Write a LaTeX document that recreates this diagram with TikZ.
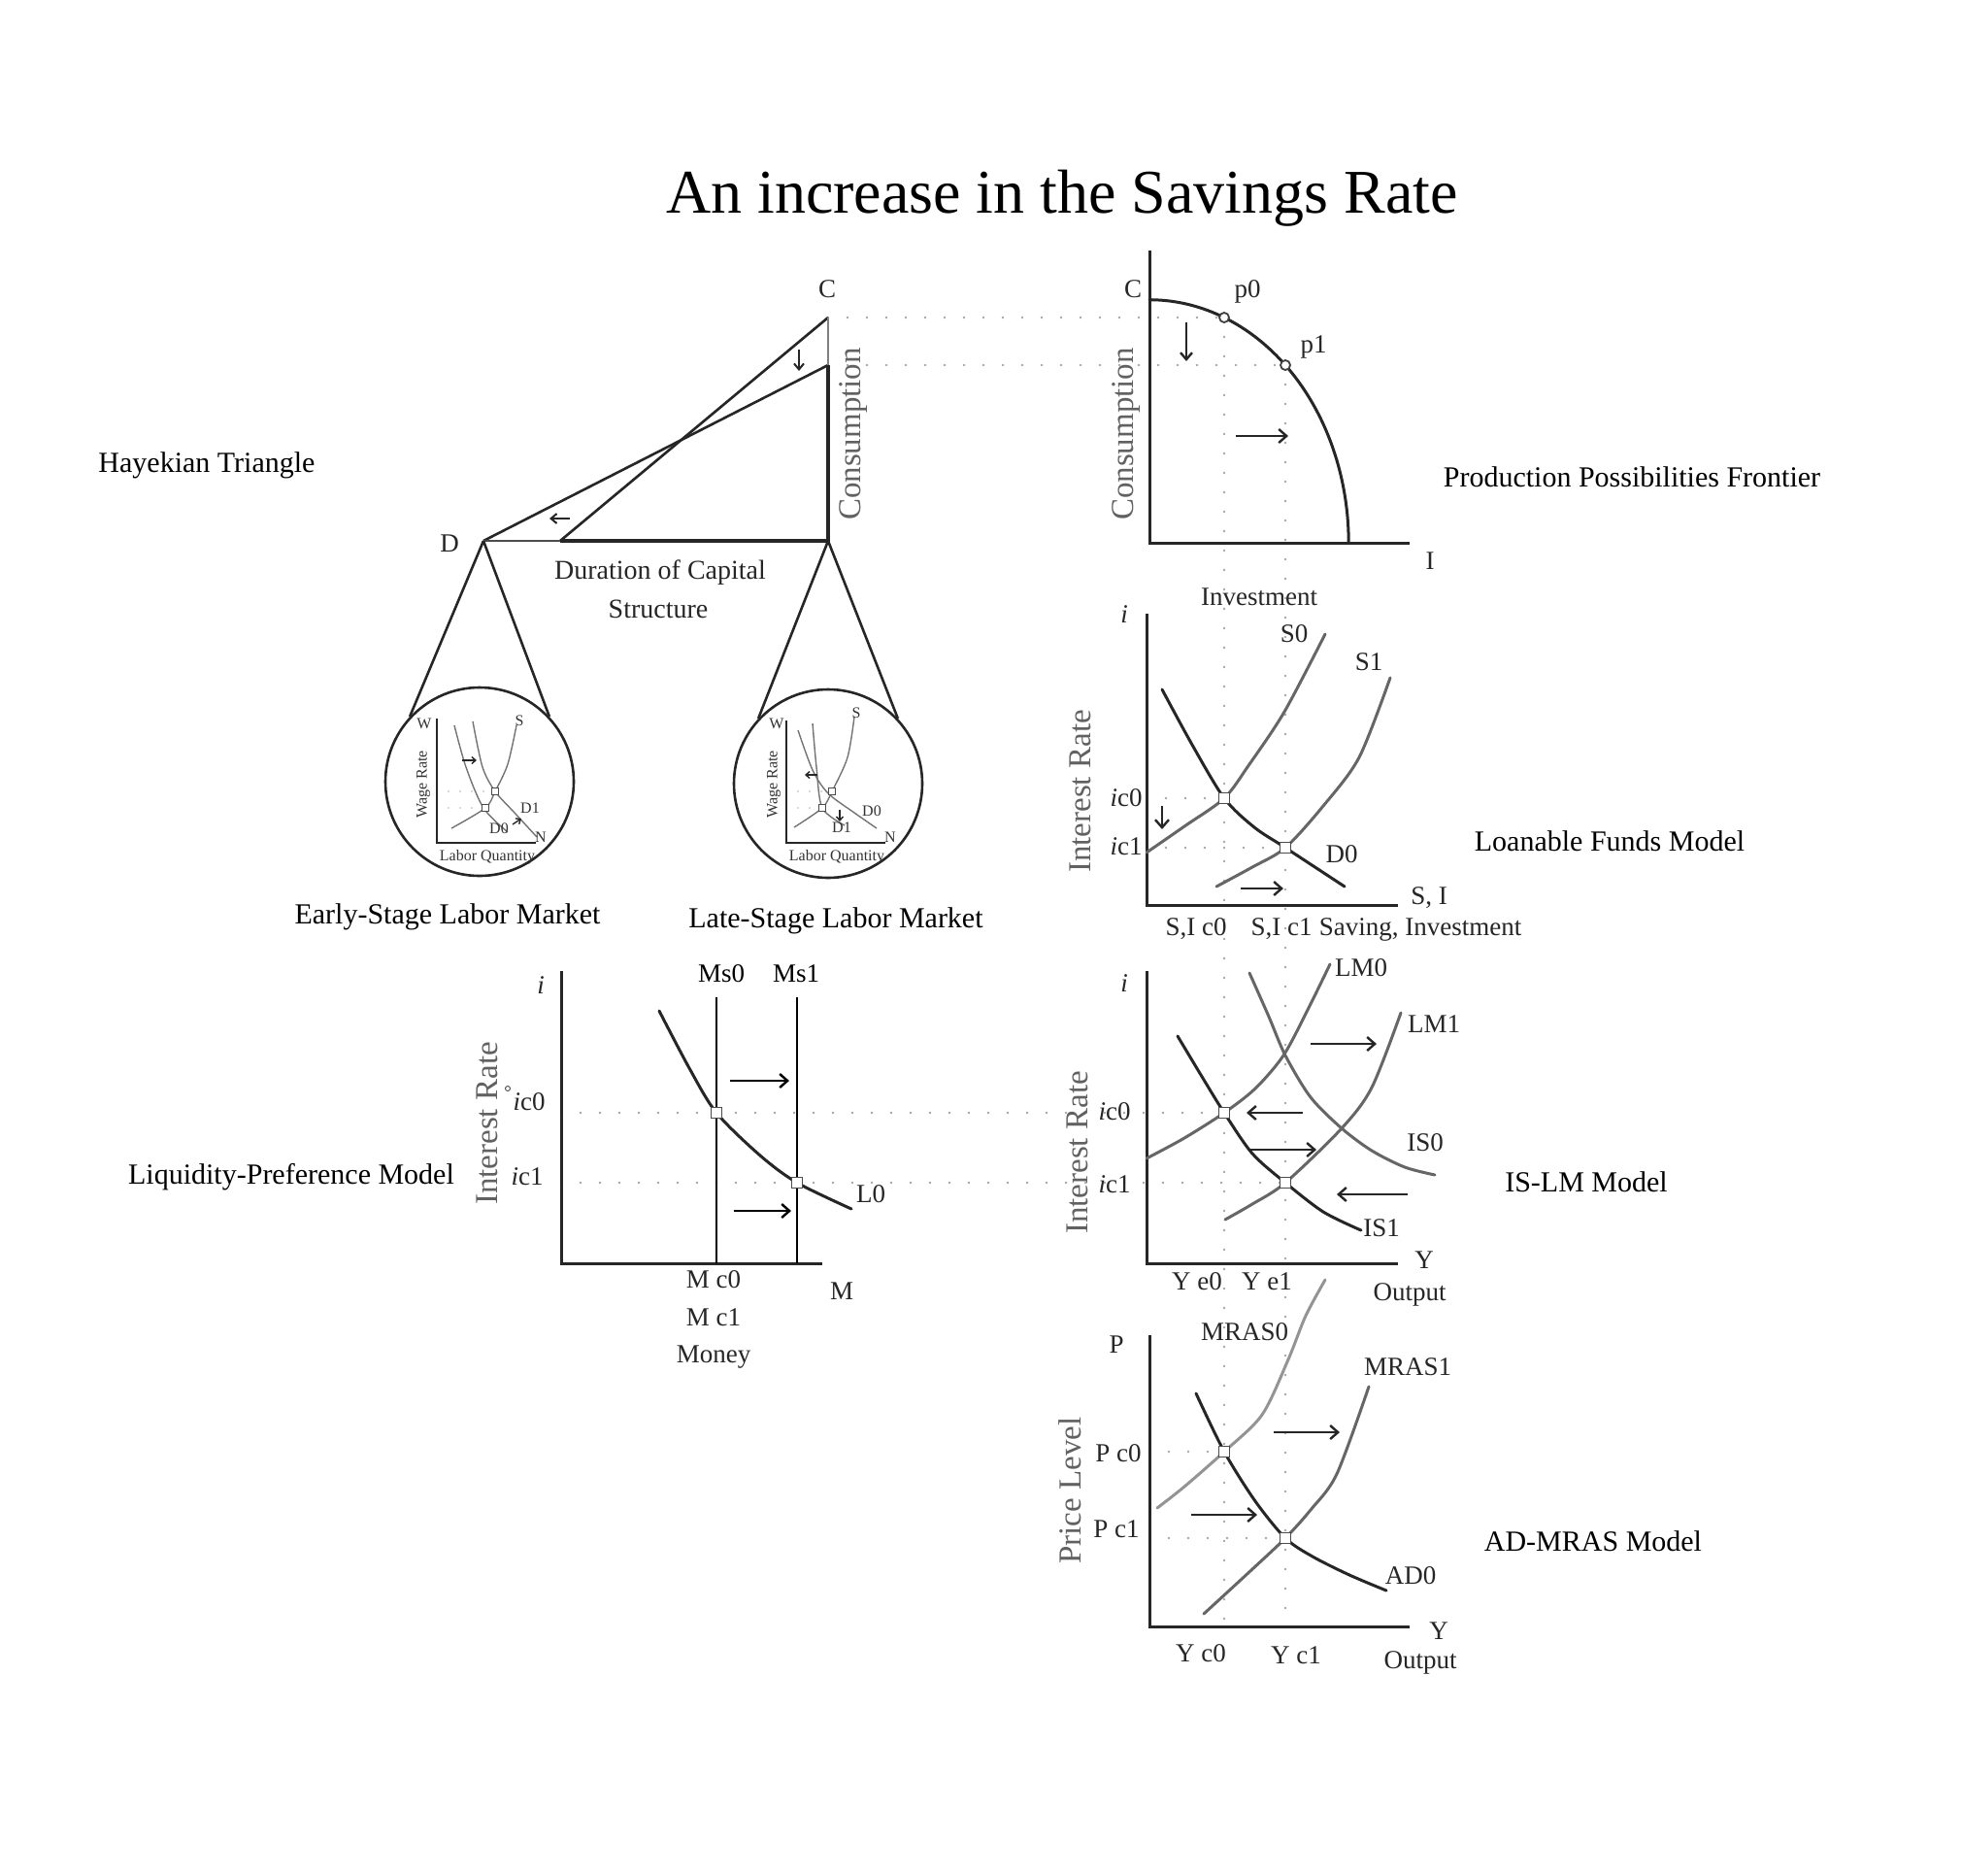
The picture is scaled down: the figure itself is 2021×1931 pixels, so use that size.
\documentclass[tikz,border=0pt]{standalone}
\usepackage{fontspec}
\setmainfont{Liberation Serif}
\usetikzlibrary{arrows.meta}
\begin{document}
\begin{tikzpicture}[x=1pt,y=-1pt,
  axis/.style={line width=3pt, black!85},
  crv/.style={line width=3pt, line cap=round},
  dk/.style={crv, black!85},
  md/.style={crv, black!60},
  lt/.style={crv, black!42},
  dotl/.style={line width=2.6pt, black!35, dash pattern=on 0pt off 20pt, line cap=round},
  arr/.style={line width=2.4pt, black!85, -{Straight Barb[length=8pt,width=14pt]}},
  sarr/.style={line width=1.4pt, black!85, -{Straight Barb[length=4pt,width=7pt]}},
  eq/.style={rectangle, draw=black!70, fill=white, line width=1.8pt, minimum size=11pt, inner sep=0pt},
  seq/.style={rectangle, draw=black!70, fill=white, line width=1.2pt, minimum size=7pt, inner sep=0pt},
  lbl/.style={font=\fontsize{27}{30}\selectfont, text=black!85, inner sep=0pt},
  ttl/.style={font=\fontsize{33}{36}\selectfont, text=black!62, inner sep=0pt, rotate=90},
  side/.style={font=\fontsize{30}{34}\selectfont, inner sep=0pt},
  small/.style={font=\fontsize{16}{18}\selectfont, text=black!80, inner sep=0pt},
  sc/.style={line width=1.4pt, black!55},
  sdot/.style={line width=1.6pt, black!30, dash pattern=on 0pt off 12pt, line cap=round}
]
\useasboundingbox (0,0) rectangle (2021,1931);

% ---------- title and side labels ----------
\node[font=\fontsize{64}{70}\selectfont, inner sep=0pt] (title) at (1094,204) {An increase in the Savings Rate};
\node[side] (hayek) at (213,479) {Hayekian Triangle};
\node[side] (ppfl) at (1681,491) {Production Possibilities Frontier};
\node[side] (lfl) at (1658,866) {Loanable Funds Model};
\node[side] (islml) at (1634,1217) {IS-LM Model};
\node[side] (adl) at (1641,1587) {AD-MRAS Model};
\node[side] (lpl) at (300,1212) {Liquidity-Preference Model};
\node[side] (esl) at (461,944) {Early-Stage Labor Market};
\node[side] (lsl) at (861,948) {Late-Stage Labor Market};

% ---------- key coordinates ----------
\coordinate (Ct) at (853,327);
\coordinate (Cl) at (853,376);
\coordinate (K) at (853,557);
\coordinate (Dp) at (498,557);
\coordinate (B) at (577,557);

% ---------- dotted guide lines ----------
\draw[dotl] (Ct) -- (1261,327);
\draw[dotl] (Cl) -- (1324,376);
\draw[dotl] (1261,327) -- (1261,1675);
\draw[dotl] (1324,376) -- (1324,1675);
\draw[dotl] (1181,822) -- (1261,822);
\draw[dotl] (1181,873) -- (1324,873);
\draw[dotl] (578,1146) -- (1261,1146);
\draw[dotl] (578,1218) -- (1324,1218);
\draw[dotl] (1184,1495) -- (1261,1495);
\draw[dotl] (1184,1584) -- (1324,1584);

% ---------- Hayekian triangle ----------
\draw[line width=2.6pt, black!85] (B) -- (Ct);
\draw[line width=2.6pt, black!85] (Dp) -- (Cl);
\draw[line width=2.6pt, black!70] (Dp) -- (B);
\draw[line width=3.4pt, black!85] (B) -- (K) -- (Cl);
\draw[line width=2.4pt, black!50] (Cl) -- (Ct);
\draw[sarr, line width=2pt, -{Straight Barb[length=6pt,width=10pt]}] (823,360) -- (823,382);
\draw[sarr, line width=2pt, -{Straight Barb[length=6pt,width=10pt]}] (587,534) -- (566,534);
\node[lbl] (hC) at (852,298) {C};
\node[lbl] (hD) at (463,560) {D};
\node[lbl, font=\fontsize{28}{31}\selectfont] (dur1) at (680,590) {Duration of Capital};
\node[lbl, font=\fontsize{28}{31}\selectfont] (dur2) at (678,627) {Structure};
\node[ttl] (hcons) at (879,447) {Consumption};

% ---------- labour market circles ----------
\node[circle, draw=black!85, line width=2.6pt, minimum size=194pt, inner sep=0pt] (c1) at (494,805) {};
\node[circle, draw=black!85, line width=2.6pt, minimum size=194pt, inner sep=0pt] (c2) at (853,807) {};
\draw[line width=2.6pt, black!85] (Dp) -- (c1.137);
\draw[line width=2.6pt, black!85] (Dp) -- (c1.43);
\draw[line width=2.6pt, black!85] (K) -- (c2.137);
\draw[line width=2.6pt, black!85] (K) -- (c2.43);

% early stage
\draw[sdot] (450,815) -- (510,815);
\draw[sdot] (450,832) -- (500,832);
\draw[line width=2pt, black!85] (450,740) -- (450,868) -- (552,868);
\draw[sc] plot[smooth] coordinates {(468,747) (480,790) (498,832) (523,857)};
\draw[sc] plot[smooth] coordinates {(487,743) (497,790) (510,815) (530,837) (553,862)};
\draw[sc] plot[smooth] coordinates {(465,853) (500,832) (510,815) (523,787) (532,747)};
\node[seq] (e1a) at (500,832) {};
\node[seq] (e1b) at (510,815) {};
\draw[sarr] (476,783) -- (491,783);
\draw[sarr] (528,849) -- (537,843);
\node[small] (w1) at (437,745) {W};
\node[small, rotate=90] (wr1) at (436,808) {Wage Rate};
\node[small] (lq1) at (502,883) {Labor Quantity};
\node[small] (n1) at (557,862) {N};
\node[small] (s1) at (535,742) {S};
\node[small] (d11) at (546,832) {D1};
\node[small] (d01) at (514,853) {D0};

% late stage
\draw[sdot] (810,815) -- (857,815);
\draw[sdot] (810,832) -- (847,832);
\draw[line width=2pt, black!85] (810,742) -- (810,868) -- (912,868);
\draw[sc] plot[smooth] coordinates {(822,752) (837,793) (853,817) (880,837) (903,853)};
\draw[sc] plot[smooth] coordinates {(837,745) (841,790) (847,832) (870,850)};
\draw[sc] plot[smooth] coordinates {(818,852) (847,832) (857,815) (873,780) (880,738)};
\node[seq] (e2a) at (847,832) {};
\node[seq] (e2b) at (857,815) {};
\draw[sarr] (842,798) -- (829,798);
\draw[sarr] (865,834) -- (865,846);
\node[small] (w2) at (800,745) {W};
\node[small, rotate=90] (wr2) at (797,808) {Wage Rate};
\node[small] (lq2) at (862,883) {Labor Quantity};
\node[small] (n2) at (917,862) {N};
\node[small] (s2) at (882,734) {S};
\node[small] (d02) at (898,835) {D0};
\node[small] (d12) at (867,852) {D1};

% ---------- PPF ----------
\draw[axis] (1184,258) -- (1184,559) -- (1452,559);
\draw[dk] plot[domain=0:90, samples=60] ({1184+205.2*sin(\x)},{559-250.3*cos(\x)});
\node[circle, draw=black!75, fill=white, line width=1.8pt, minimum size=10pt, inner sep=0pt] (p0) at (1261,327) {};
\node[circle, draw=black!75, fill=white, line width=1.8pt, minimum size=10pt, inner sep=0pt] (p1) at (1324,376) {};
\draw[arr, -{Straight Barb[length=7pt,width=12pt]}] (1222,332) -- (1222,372);
\draw[arr] (1273,449) -- (1327,449);
\node[lbl] (pC) at (1167,298) {C};
\node[lbl] (pp0) at (1285,300) {p0};
\node[lbl] (pp1) at (1353,357) {p1};
\node[lbl] (pI) at (1473,578) {I};
\node[lbl] (pinv) at (1297,615) {Investment};
\node[ttl] (pcons) at (1160,447) {Consumption};

% ---------- Loanable funds ----------
\draw[axis] (1181,632) -- (1181,932) -- (1440,932);
\draw[md] plot[smooth] coordinates {(1181,878) (1220,851) (1261,822) (1287,787) (1323,733) (1365,653)};
\draw[md] plot[smooth] coordinates {(1253,913) (1290,893) (1324,873) (1363,830) (1400,780) (1432,698)};
\draw[dk] plot[smooth] coordinates {(1197,710) (1228,767) (1261,822) (1292,852) (1324,873) (1385,913)};
\node[eq] (lfe0) at (1261,822) {};
\node[eq] (lfe1) at (1324,873) {};
\draw[arr] (1197,830) -- (1197,854);
\draw[arr] (1278,915) -- (1322,915);
\node[lbl, font=\fontsize{27}{30}\itshape] (lfi) at (1158,633) {i};
\node[ttl] (lfir) at (1113,815) {Interest Rate};
\node[lbl] (lfic0) at (1160,822) {{\itshape i}c0};
\node[lbl] (lfic1) at (1160,872) {{\itshape i}c1};
\node[lbl] (lfS0) at (1333,653) {S0};
\node[lbl] (lfS1) at (1410,682) {S1};
\node[lbl] (lfD0) at (1382,880) {D0};
\node[lbl] (lfSI) at (1472,925) {S, I};
\node[lbl] (lfc0) at (1232,957) {S,I c0};
\node[lbl] (lfc1) at (1320,957) {S,I c1};
\node[lbl] (lfsi) at (1463,957) {Saving, Investment};

% ---------- IS-LM ----------
\draw[axis] (1181,1000) -- (1181,1301) -- (1440,1301);
\draw[md] plot[smooth] coordinates {(1181,1193) (1220,1172) (1261,1146) (1293,1121) (1322,1087) (1347,1040) (1370,993)};
\draw[md] plot[smooth] coordinates {(1262,1256) (1290,1240) (1324,1218) (1382,1162) (1413,1120) (1443,1043)};
\draw[dk] plot[smooth] coordinates {(1213,1067) (1237,1107) (1261,1146) (1290,1188) (1324,1218) (1363,1248) (1402,1267)};
\draw[md] plot[smooth] coordinates {(1287,1002) (1307,1047) (1324,1087) (1350,1130) (1382,1162) (1413,1185) (1447,1202) (1478,1210)};
\node[eq] (ise0) at (1261,1146) {};
\node[eq] (ise1) at (1324,1218) {};
\draw[arr] (1350,1075) -- (1418,1075);
\draw[arr] (1342,1146) -- (1284,1146);
\draw[arr] (1288,1184) -- (1356,1184);
\draw[arr] (1450,1230) -- (1377,1230);
\node[lbl, font=\fontsize{27}{30}\itshape] (isi) at (1158,1013) {i};
\node[ttl] (isir) at (1110,1187) {Interest Rate};
\node[lbl] (isic0) at (1148,1145) {{\itshape i}c0};
\node[lbl] (isic1) at (1148,1220) {{\itshape i}c1};
\node[lbl] (isLM0) at (1402,997) {LM0};
\node[lbl] (isLM1) at (1477,1055) {LM1};
\node[lbl] (isIS0) at (1468,1177) {IS0};
\node[lbl] (isIS1) at (1423,1265) {IS1};
\node[lbl] (isY) at (1467,1298) {Y};
\node[lbl] (isout) at (1452,1333) {Output};
\node[lbl] (isy0) at (1233,1320) {Y e0};
\node[lbl] (isy1) at (1305,1320) {Y e1};

% ---------- AD-MRAS ----------
\draw[axis] (1184,1375) -- (1184,1675) -- (1452,1675);
\draw[lt] plot[smooth] coordinates {(1192,1553) (1220,1531) (1261,1495) (1300,1457) (1327,1400) (1345,1355) (1365,1318)};
\draw[md] plot[smooth] coordinates {(1240,1662) (1290,1616) (1324,1584) (1350,1555) (1377,1518) (1410,1428)};
\draw[dk] plot[smooth] coordinates {(1232,1435) (1261,1495) (1293,1546) (1324,1584) (1352,1603) (1390,1622) (1428,1638)};
\node[eq] (ade0) at (1261,1495) {};
\node[eq] (ade1) at (1324,1584) {};
\draw[arr] (1312,1475) -- (1380,1475);
\draw[arr] (1227,1560) -- (1295,1560);
\node[lbl] (adP) at (1150,1385) {P};
\node[ttl] (adpl) at (1102,1535) {Price Level};
\node[lbl] (adp0) at (1152,1497) {P c0};
\node[lbl] (adp1) at (1150,1575) {P c1};
\node[lbl] (adm0) at (1282,1372) {MRAS0};
\node[lbl] (adm1) at (1450,1408) {MRAS1};
\node[lbl] (adAD) at (1453,1623) {AD0};
\node[lbl] (adY) at (1482,1680) {Y};
\node[lbl] (adout) at (1463,1712) {Output};
\node[lbl] (ady0) at (1237,1703) {Y c0};
\node[lbl] (ady1) at (1335,1705) {Y c1};

% ---------- Liquidity preference ----------
\draw[axis] (578,1000) -- (578,1301) -- (847,1301);
\draw[line width=2.2pt, black] (738,1027) -- (738,1301);
\draw[line width=2.2pt, black] (821,1027) -- (821,1301);
\draw[dk] plot[smooth] coordinates {(679,1041) (710,1100) (738,1146) (783,1190) (821,1218) (877,1245)};
\node[eq] (lpe0) at (738,1146) {};
\node[eq] (lpe1) at (821,1218) {};
\draw[arr, black] (752,1113) -- (813,1113);
\draw[arr, black] (756,1247) -- (815,1247);
\node[circle, draw=black!80, line width=0.8pt, minimum size=5pt, inner sep=0pt] (deg) at (523,1121) {};
\node[lbl, font=\fontsize{27}{30}\itshape] (lpi) at (557,1015) {i};
\node[ttl] (lpir) at (502,1157) {Interest Rate};
\node[lbl] (lpic0) at (545,1135) {{\itshape i}c0};
\node[lbl] (lpic1) at (543,1212) {{\itshape i}c1};
\node[lbl, text=black] (lpms0) at (743,1003) {Ms0};
\node[lbl, text=black] (lpms1) at (820,1003) {Ms1};
\node[lbl] (lpL0) at (897,1230) {L0};
\node[lbl] (lpm0) at (735,1318) {M c0};
\node[lbl] (lpm1) at (735,1357) {M c1};
\node[lbl] (lpmon) at (735,1398) {Money};
\node[lbl] (lpM) at (867,1330) {M};
\end{tikzpicture}
\end{document}
